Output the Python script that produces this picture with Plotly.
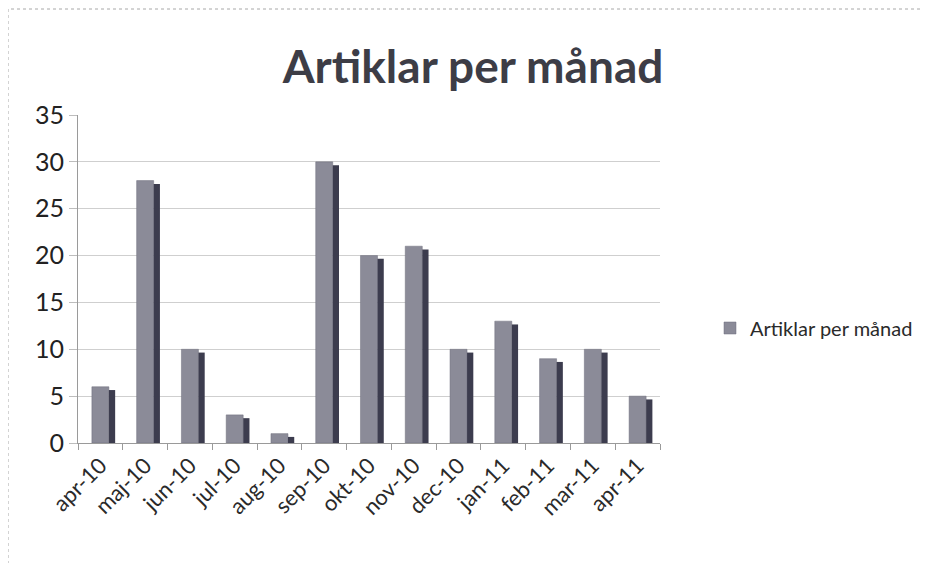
import plotly.graph_objects as go

# Data
manader = ["apr-10", "maj-10", "jun-10", "jul-10", "aug-10", "sep-10", "okt-10",
           "nov-10", "dec-10", "jan-11", "feb-11", "mar-11", "apr-11"]
artiklar = [6, 28, 10, 3, 1, 30, 20, 21, 10, 13, 9, 10, 5]
serie_namn = "Artiklar per månad"

OFF = 8  # the page body adds an 8px margin
W, H = 931 - OFF, 563 - OFF
L, R, T, B = 78 - OFF, 660 - OFF, 115 - OFF, 443 - OFF  # plot area in pixels
pw, ph = R - L, B - T


def px_x(x):
    return (x - OFF - L) / pw


def px_y(y):
    return (B - (y - OFF)) / ph


fig = go.Figure()

# front face of the columns
fig.add_trace(go.Bar(
    x=manader, y=artiklar, name=serie_namn,
    offset=-0.19, width=0.38,
    marker=dict(color="#8b8b98", line=dict(color="#6f6f7c", width=0.5)),
))
# dark side face (3D look)
fig.add_trace(go.Bar(
    x=manader, y=artiklar, base=-0.35, showlegend=False, hoverinfo="skip",
    offset=0.19, width=0.14,
    marker=dict(color="#3c3c4e", line=dict(width=0)),
))

fig.update_layout(
    width=W, height=H,
    margin=dict(l=L, r=W - R, t=T, b=H - B, autoexpand=False),
    paper_bgcolor="white", plot_bgcolor="white",
    barmode="overlay",
    font=dict(family="Lato, 'Open Sans', sans-serif", color="#2a2a2a"),
    title=dict(text="<b>Artiklar per månad</b>", font=dict(size=46, color="#3d3d46"),
               x=px_x(473), xref="paper", xanchor="center",
               y=1 - (67 - OFF) / H, yref="container", yanchor="middle"),
    legend=dict(x=px_x(710), y=px_y(328), xanchor="left", yanchor="middle",
                font=dict(size=20, color="#2a2a2a"), bgcolor="rgba(0,0,0,0)",
                itemwidth=30),
    showlegend=True,
)

fig.update_yaxes(
    range=[0, 35], dtick=5, showgrid=True, gridcolor="#cfcfcf", gridwidth=1,
    showline=True, linecolor="#9a9a9a", linewidth=1,
    ticks="outside", ticklen=8, tickcolor="#bdbdbd",
    tickfont=dict(size=25, color="#222222"), zeroline=False, automargin=False,
)
fig.update_xaxes(
    showline=True, linecolor="#9a9a9a", linewidth=1,
    ticks="outside", ticklen=6, tickcolor="#9a9a9a", tickson="boundaries",
    tickangle=-45, tickfont=dict(size=22, color="#2a2a2a"), showgrid=False,
    automargin=False,
)

# outer chart frame
fig.add_shape(type="rect", xref="paper", yref="paper",
              x0=px_x(8), x1=px_x(931 + 20), y0=px_y(563 + 20), y1=px_y(9),
              line=dict(color="#a8a8a8", width=1, dash="dot"), layer="below")

fig.write_html("out.html")
